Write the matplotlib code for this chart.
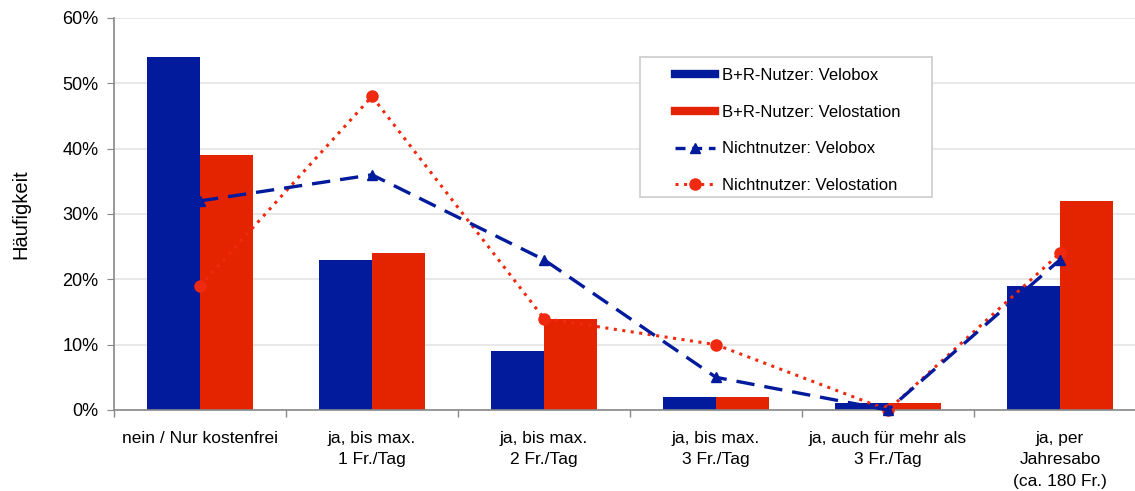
import matplotlib
matplotlib.use("Agg")
import matplotlib.pyplot as plt
import numpy as np
from matplotlib.ticker import FixedLocator, PercentFormatter
from matplotlib.lines import Line2D
from matplotlib.patches import Rectangle

plt.rcParams['font.family'] = ['Liberation Sans', 'DejaVu Sans']

categories = ["nein / Nur kostenfrei", "ja, bis max.\n1 Fr./Tag", "ja, bis max.\n2 Fr./Tag",
              "ja, bis max.\n3 Fr./Tag", "ja, auch für mehr als\n3 Fr./Tag",
              "ja, per\nJahresabo\n(ca. 180 Fr.)"]
br_velobox = [54, 23, 9, 2, 1, 19]
br_velostation = [39, 24, 14, 2, 1, 32]
nn_velobox = [32, 36, 23, 5, 0, 23]
nn_velostation = [19, 48, 14, 10, 0, 24]
yticks = [0, 10, 20, 30, 40, 50, 60]

blue = "#021a9c"
red = "#e42300"
red_line = "#f02a10"

fig = plt.figure(figsize=(11.35, 4.91), dpi=100)
ax = fig.add_axes([114/1135, 81/491, 1032/1135, 392/491])
x = np.arange(len(categories))
w = 0.31
ax.bar(x - w/2, br_velobox, width=w, color=blue, zorder=2)
ax.bar(x + w/2, br_velostation, width=w, color=red, zorder=2)
ax.plot(x, nn_velostation, color=red_line, linestyle=(0, (1, 1.8)), linewidth=2.2,
        marker='o', markersize=8, zorder=3, clip_on=False)
ax.plot(x, nn_velobox, color=blue, linestyle=(0, (5.5, 3)), linewidth=2.4,
        marker='^', markersize=7, zorder=4, clip_on=False)

ax.set_xlim(-0.5, 5.5)
ax.set_ylim(0, 60)
ax.yaxis.set_major_locator(FixedLocator(yticks))
ax.yaxis.set_major_formatter(PercentFormatter(decimals=0))
ax.grid(axis='y', color='#e4e4e4', linewidth=1.2, zorder=0)
ax.set_axisbelow(True)
ax.set_xticks(x)
ax.set_xticklabels(categories, fontsize=12.5, linespacing=1.55)
ax.set_xticks(np.arange(-0.5, 6.0, 1.0), minor=True)
ax.tick_params(axis='x', which='major', length=0, pad=15)
ax.tick_params(axis='x', which='minor', length=5, color='#888888', width=1)
ax.tick_params(axis='y', length=5, color='#888888', labelsize=13, pad=6)
for s in ['top', 'right']:
    ax.spines[s].set_visible(False)
for s in ['left', 'bottom']:
    ax.spines[s].set_color('#888888')
    ax.spines[s].set_linewidth(1.2)
ax.set_ylabel("Häufigkeit", fontsize=14.5, labelpad=23)

handles = [
    Line2D([], [], color=blue, linewidth=6),
    Line2D([], [], color=red, linewidth=6),
    Line2D([], [], color=blue, linestyle=(0, (3, 2)), linewidth=2.4, marker='^', markersize=7),
    Line2D([], [], color=red_line, linestyle=(0, (1, 1.8)), linewidth=2.2, marker='o', markersize=8),
]
labels = ["B+R-Nutzer: Velobox", "B+R-Nutzer: Velostation", "Nichtnutzer: Velobox", "Nichtnutzer: Velostation"]
leg = fig.legend(handles, labels, loc='upper left', bbox_to_anchor=(675/1135, 1 - 68/491),
                 fontsize=12, frameon=False, handlelength=2.4,
                 labelspacing=1.3, borderpad=0, handletextpad=0.45, borderaxespad=0)
fig.patches.append(Rectangle((640/1135, 1 - 197/491), 292/1135, 140/491,
                             transform=fig.transFigure, fill=True, facecolor='white',
                             edgecolor='#cccccc', linewidth=1.2, zorder=1))
leg.set_zorder(5)

fig.savefig("out.png", dpi=100)
